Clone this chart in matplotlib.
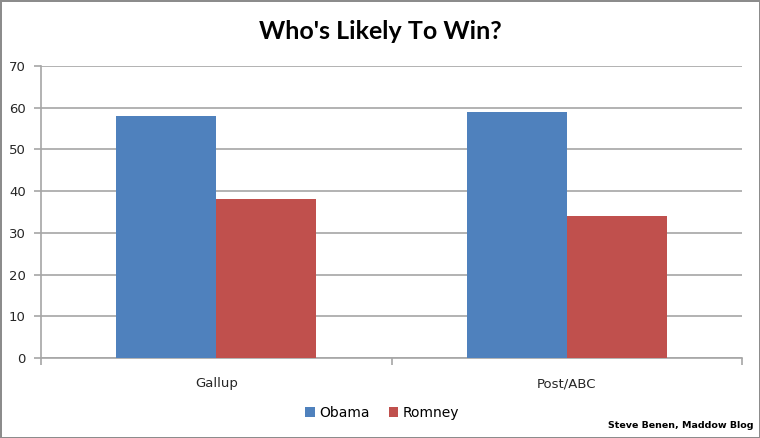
import matplotlib.pyplot as plt
import numpy as np

categories = ['Gallup', 'Post/ABC']
obama = [58, 59]
romney = [38, 34]
yticks = [0, 10, 20, 30, 40, 50, 60, 70]

fig = plt.figure(figsize=(7.6, 4.38), dpi=100)
fig.patch.set_edgecolor('#8c8c8c')
fig.patch.set_linewidth(2)

ax = fig.add_axes([41 / 760, 80 / 438, 701 / 760, 292 / 438])

x = np.arange(len(categories))
w = 0.286
ax.bar(x - w / 2, obama, w, color='#4f81bd', label='Obama', zorder=3)
ax.bar(x + w / 2, romney, w, color='#c0504d', label='Romney', zorder=3)

ax.set_xlim(-0.5, 1.5)
ax.set_ylim(0, 70)
ax.set_yticks(yticks)
ax.yaxis.grid(True, color='#a6a6a6', linewidth=1.2, zorder=0)

for s in ['top', 'right']:
    ax.spines[s].set_visible(False)
for s in ['left', 'bottom']:
    ax.spines[s].set_color('#a6a6a6')
    ax.spines[s].set_linewidth(1.2)

ax.set_xticks(x)
ax.set_xticklabels(categories)
ax.set_xticks([-0.5, 0.5, 1.5], minor=True)
ax.tick_params(axis='x', which='major', length=0, pad=14, labelsize=9.5, labelcolor='#262626')
ax.tick_params(axis='x', which='minor', length=5, color='#a6a6a6', width=1.2)
ax.tick_params(axis='y', length=5, color='#a6a6a6', width=1.2, labelsize=9.5, labelcolor='#262626', pad=6)

fig.text(0.5, 0.928, "Who's Likely To Win?", ha='center', va='center',
         fontsize=18, fontweight='bold', family='Lato')

ax.legend(loc='center', bbox_to_anchor=(382 / 760, 25 / 438), bbox_transform=fig.transFigure,
          ncol=2, frameon=False, fontsize=10, handlelength=0.7, handleheight=0.7,
          handletextpad=0.3, columnspacing=1.4)

fig.text(753 / 760, 13 / 438, 'Steve Benen, Maddow Blog', ha='right', va='center',
         fontsize=6.8, fontweight='bold')

fig.savefig('out.png', dpi=100, edgecolor=fig.get_edgecolor())
